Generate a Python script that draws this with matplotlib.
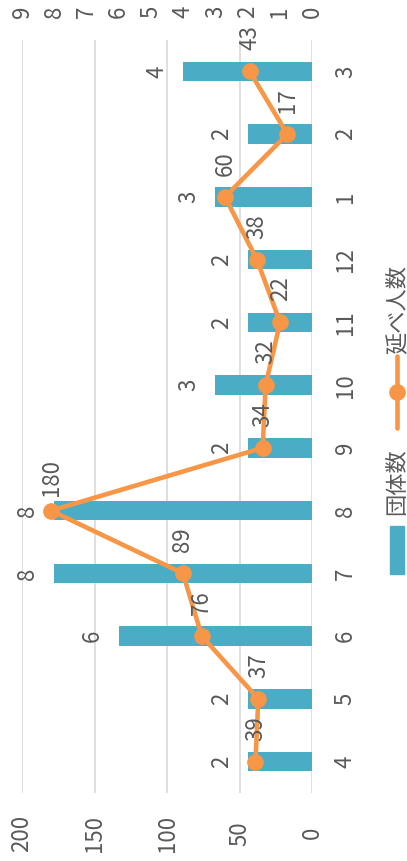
import matplotlib.pyplot as plt
from matplotlib.patches import Rectangle
from matplotlib.lines import Line2D

months = ['4', '5', '6', '7', '8', '9', '10', '11', '12', '1', '2', '3']
groups = [2, 2, 6, 8, 8, 2, 3, 2, 2, 3, 2, 4]          # 団体数
people = [39, 37, 76, 89, 180, 34, 32, 22, 38, 60, 17, 43]  # 延べ人数
people_ticks = [0, 50, 100, 150, 200]
group_ticks = list(range(10))

bar_color = '#4BACC6'
line_color = '#F79646'
text_color = '#595959'
grid_color = '#D9D9D9'

plt.rcParams['font.family'] = ['Noto Sans CJK JP', 'DejaVu Sans']
fs = 16

fig = plt.figure(figsize=(4.07, 8.61), dpi=100)
ax = fig.add_axes([22 / 407, 68 / 861, 290 / 407, 753 / 861])
pos = list(range(len(months)))

# base axis: gridlines + 延べ人数 labels (bottom)
ax.set_xlim(200, 0)
ax.set_ylim(-0.5, len(months) - 0.5)
ax.set_xticks(people_ticks)
ax.set_xticklabels([str(t) for t in people_ticks], rotation=90, va='center',
                   color=text_color, fontsize=fs)
ax.tick_params(axis='x', length=0, pad=29)
ax.grid(axis='x', color=grid_color, linewidth=1.2)
ax.set_axisbelow(True)
ax.yaxis.tick_right()
ax.set_yticks(pos)
ax.set_yticklabels(months, rotation=90, ha='center', va='center',
                   color=text_color, fontsize=fs)
ax.tick_params(axis='y', length=0, pad=24)
for s in ax.spines.values():
    s.set_visible(False)

# bars: 団体数 on the 0-9 axis (top)
axb = ax.twiny()
axb.set_xlim(9, 0)
axb.barh(pos, groups, height=0.31, color=bar_color)
axb.set_xticks(group_ticks)
axb.set_xticklabels([str(t) for t in group_ticks], rotation=90, va='center',
                    color=text_color, fontsize=fs)
axb.tick_params(axis='x', length=0, pad=20)
for s in axb.spines.values():
    s.set_visible(False)
for p, g in zip(pos, groups):
    axb.annotate(str(g), (g, p), xytext=(-19, 0), textcoords='offset points',
                 rotation=90, ha='center', va='center', color=text_color, fontsize=fs)

# line: 延べ人数 on the 0-200 axis
axl = ax.twiny()
axl.set_xlim(200, 0)
axl.plot(people, pos, color=line_color, linewidth=3.3, marker='o',
         markersize=11, solid_capstyle='round')
axl.set_xticks([])
for s in axl.spines.values():
    s.set_visible(False)
for p, v in zip(pos, people):
    axl.annotate(str(v), (v, p), xytext=(0, 24), textcoords='offset points',
                 rotation=90, ha='center', va='center', color=text_color, fontsize=fs)

# legend drawn by hand, rotated like the rest
fig.patches.append(Rectangle((390 / 407, 1 - 574 / 861), 14 / 407, 48 / 861,
                             transform=fig.transFigure, color=bar_color))
fig.text(397 / 407, 1 - 482 / 861, '団体数', rotation=90, ha='center', va='center',
         color=text_color, fontsize=fs)
fig.lines.append(Line2D([397 / 407, 397 / 407], [1 - 428 / 861, 1 - 356 / 861],
                        transform=fig.transFigure, color=line_color, linewidth=3.3,
                        marker='o', markersize=11, markevery=[], solid_capstyle='round'))
fig.lines.append(Line2D([397 / 407], [1 - 392 / 861], transform=fig.transFigure,
                        color=line_color, marker='o', markersize=11))
fig.text(397 / 407, 1 - 310 / 861, '延べ人数', rotation=90, ha='center', va='center',
         color=text_color, fontsize=fs)

fig.savefig('out.png', dpi=100)
